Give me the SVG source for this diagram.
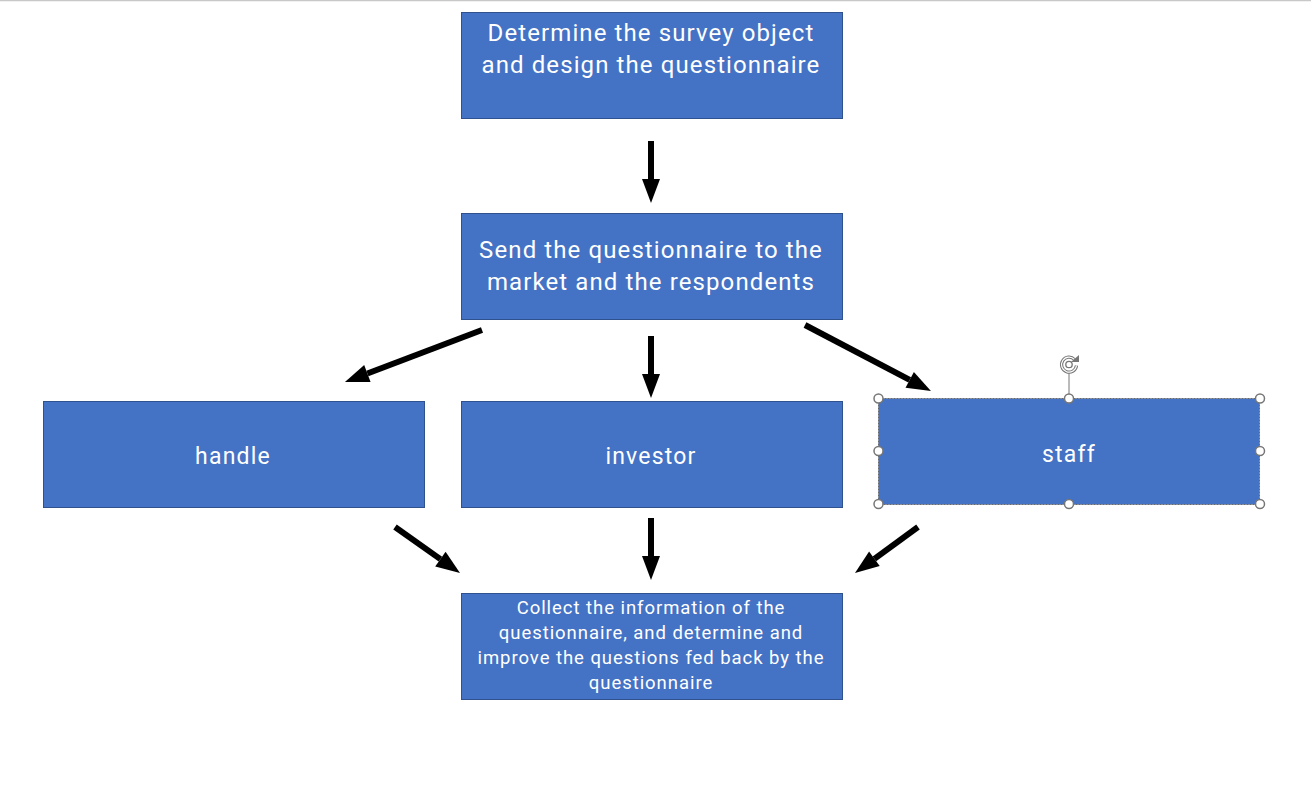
<svg xmlns="http://www.w3.org/2000/svg" width="1311" height="795" viewBox="0 0 1311 795">
<style>
.box{fill:#4472C4;stroke:#2F528F;stroke-width:1}
.t{font-family:Roboto,"Liberation Sans",sans-serif;fill:#fff;text-anchor:middle;dominant-baseline:central}
.big{font-size:24px;letter-spacing:1.1px}
.mid{font-size:23px;letter-spacing:1.2px}
.sm{font-size:18.5px;letter-spacing:0.95px}
.arr{stroke:#000;stroke-width:6;fill:none}
.hd{fill:#fff;stroke:#767676;stroke-width:1.5}
</style>
<defs>
<marker id="ah" markerUnits="strokeWidth" markerWidth="4" markerHeight="3" refX="0" refY="1.5" orient="auto" overflow="visible">
<path d="M0,0 L4,1.5 L0,3 z" fill="#000"/>
</marker>
</defs>
<rect width="1311" height="795" fill="#fff"/>
<line x1="0" y1="0.5" x2="1311" y2="0.5" stroke="#c8c8c8" stroke-width="1.5"/>
<g id="n1">
<rect class="box" x="461.5" y="12.5" width="381" height="106"/>
<text class="t big" x="651" y="33">Determine the survey object</text>
<text class="t big" x="651" y="65">and design the questionnaire</text>
</g>
<g id="n2">
<rect class="box" x="461.5" y="213.5" width="381" height="106"/>
<text class="t big" x="651" y="250">Send the questionnaire to the</text>
<text class="t big" x="651" y="282">market and the respondents</text>
</g>
<g id="handle">
<rect class="box" x="43.5" y="401.5" width="381" height="106"/>
<text class="t mid" x="233" y="456">handle</text>
</g>
<g id="investor">
<rect class="box" x="461.5" y="401.5" width="381" height="106"/>
<text class="t mid" x="651" y="456">investor</text>
</g>
<g id="staff">
<rect x="878.5" y="398.5" width="381" height="106" fill="#4472C4" stroke="#6b6b6b" stroke-width="1" stroke-dasharray="2,1"/>
<text class="t mid" x="1069" y="454">staff</text>
</g>
<g id="n6">
<rect class="box" x="461.5" y="593.5" width="381" height="106"/>
<text class="t sm" x="651" y="608">Collect the information of the</text>
<text class="t sm" x="651" y="633">questionnaire, and determine and</text>
<text class="t sm" x="651" y="658">improve the questions fed back by the</text>
<text class="t sm" x="651" y="683">questionnaire</text>
</g>
<g id="connectors">
<line class="arr" x1="651" y1="141" x2="651" y2="179" marker-end="url(#ah)"/>
<line class="arr" x1="482" y1="330" x2="367.4" y2="373.5" marker-end="url(#ah)"/>
<line class="arr" x1="651" y1="336" x2="651" y2="374" marker-end="url(#ah)"/>
<line class="arr" x1="805" y1="325" x2="909.7" y2="379.9" marker-end="url(#ah)"/>
<line class="arr" x1="395" y1="527" x2="440.4" y2="559.1" marker-end="url(#ah)"/>
<line class="arr" x1="651" y1="518" x2="651" y2="556" marker-end="url(#ah)"/>
<line class="arr" x1="918" y1="527" x2="874.4" y2="558.8" marker-end="url(#ah)"/>
</g>
<g id="selection">
<line x1="1069" y1="372" x2="1069" y2="398" stroke="#767676" stroke-width="1"/>
<path d="M1074.5,359.5 A7.5,7.5 0 1 0 1076.5,365.5" fill="none" stroke="#767676" stroke-width="3.2"/>
<path d="M1074.5,359.5 A7.5,7.5 0 1 0 1076.5,365.5" fill="none" stroke="#fff" stroke-width="1.2"/>
<path d="M1071,362 L1079,362 L1079,355 z" fill="#767676"/>
<circle cx="1069" cy="364.5" r="3.2" fill="none" stroke="#767676" stroke-width="1.3"/>
<circle class="hd" cx="878.5" cy="398.5" r="4.5"/>
<circle class="hd" cx="1069" cy="398.5" r="4.5"/>
<circle class="hd" cx="1260" cy="398.5" r="4.5"/>
<circle class="hd" cx="878.5" cy="451" r="4.5"/>
<circle class="hd" cx="1260" cy="451" r="4.5"/>
<circle class="hd" cx="878.5" cy="504" r="4.5"/>
<circle class="hd" cx="1069" cy="504" r="4.5"/>
<circle class="hd" cx="1260" cy="504" r="4.5"/>
</g>
</svg>
